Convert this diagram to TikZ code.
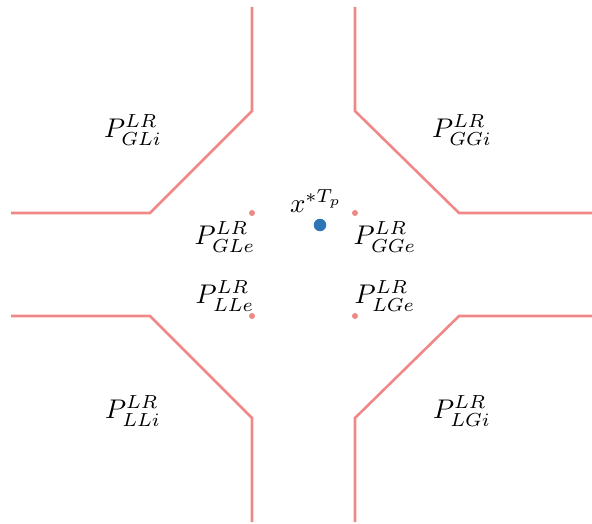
\documentclass[tikz,border=0pt]{standalone}
\usepackage{graphicx}
\definecolor{pinkline}{RGB}{240,136,136}
\definecolor{bluedot}{RGB}{46,117,182}
\newcommand{\biglbl}[1]{\scalebox{2.7}{$#1$}}
\begin{document}
\begin{tikzpicture}[x=1pt,y=-1pt,
  bound/.style={draw=pinkline,line width=2.6pt,line join=miter},
  small/.style={circle,fill=pinkline,inner sep=0pt,minimum size=6pt},
  lbl/.style={inner sep=0pt}]
\useasboundingbox (0,0) rectangle (592,524);
% boundary corner coordinates
\coordinate (tl1) at (252,7);   \coordinate (tl2) at (252,111); \coordinate (tl3) at (150,213); \coordinate (tl4) at (11,213);
\coordinate (tr1) at (355,7);   \coordinate (tr2) at (355,111); \coordinate (tr3) at (459,213); \coordinate (tr4) at (592,213);
\coordinate (bl1) at (11,316);  \coordinate (bl2) at (150,316); \coordinate (bl3) at (252,418); \coordinate (bl4) at (252,522);
\coordinate (br1) at (592,316); \coordinate (br2) at (459,316); \coordinate (br3) at (355,418); \coordinate (br4) at (355,522);
\draw[bound] (tl1) -- (tl2) -- (tl3) -- (tl4);
\draw[bound] (tr1) -- (tr2) -- (tr3) -- (tr4);
\draw[bound] (bl1) -- (bl2) -- (bl3) -- (bl4);
\draw[bound] (br1) -- (br2) -- (br3) -- (br4);
% dots
\node[small] (d1) at (252,213) {};
\node[small] (d2) at (355,213) {};
\node[small] (d3) at (252,316) {};
\node[small] (d4) at (355,316) {};
\node[circle,fill=bluedot,inner sep=0pt,minimum size=12.5pt] (x) at (320,225) {};
% labels
\node[lbl] (glx) at (316,201) {\biglbl{x^{*T_p}}};
\node[lbl] (gli) at (133,130) {\biglbl{P^{LR}_{GLi}}};
\node[lbl] (ggi) at (462,130) {\biglbl{P^{LR}_{GGi}}};
\node[lbl] (gle) at (225,237) {\biglbl{P^{LR}_{GLe}}};
\node[lbl] (gge) at (385,237) {\biglbl{P^{LR}_{GGe}}};
\node[lbl] (lle) at (225,296) {\biglbl{P^{LR}_{LLe}}};
\node[lbl] (lge) at (385,296) {\biglbl{P^{LR}_{LGe}}};
\node[lbl] (lli) at (133,411) {\biglbl{P^{LR}_{LLi}}};
\node[lbl] (lgi) at (462,411) {\biglbl{P^{LR}_{LGi}}};
\end{tikzpicture}
\end{document}
